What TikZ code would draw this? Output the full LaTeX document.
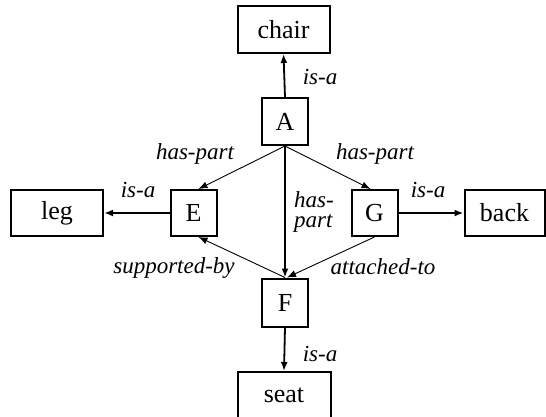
\documentclass[tikz,border=0pt]{standalone}
\usepackage{fontspec}
\setmainfont{Liberation Serif}
\usetikzlibrary{arrows.meta}
\begin{document}
\begin{tikzpicture}[x=1pt,y=-1pt,
  box/.style={draw,line width=2pt,inner sep=0pt,font=\fontsize{26}{28}\selectfont},
  rel/.style={font=\fontsize{23}{20}\selectfont\itshape,inner sep=0pt,anchor=base},
  thickarrow/.style={line width=1.8pt,-{Latex[length=9pt,width=7pt]}},
  thinarrow/.style={line width=0.9pt,-{Latex[length=9pt,width=7pt]}}]
\useasboundingbox (0,0) rectangle (546,417);
% concept boxes
\node[box,minimum width=92pt,minimum height=47pt] (chair) at (283.5,29.5) {chair};
\node[box,minimum width=46pt,minimum height=47pt] (A) at (285,121.5) {A};
\node[box,minimum width=46pt,minimum height=46pt] (E) at (193.5,213) {E};
\node[box,minimum width=92pt,minimum height=46pt] (leg) at (57,213) {leg};
\node[box,minimum width=46pt,minimum height=46pt] (G) at (374.5,213) {G};
\node[box,minimum width=80pt,minimum height=46pt] (back) at (504.5,213) {back};
\node[box,minimum width=46pt,minimum height=48pt] (F) at (285,302.5) {F};
\node[box,minimum width=93pt,minimum height=46pt] (seat) at (284,395) {seat};
% relations
\draw[thickarrow] (A.north) -- (chair.south);
\draw[thinarrow] (A.south) -- ([xshift=5pt]E.north);
\draw[thinarrow] (A.south) -- ([xshift=-4pt]G.north);
\draw[thickarrow] (A.south) -- (F.north);
\draw[thickarrow] (E.west) -- (leg.east);
\draw[thickarrow] (G.east) -- (back.west);
\draw[thinarrow] (F.north) -- ([xshift=5pt]E.south);
\draw[thinarrow] (G.south) -- ([xshift=2pt]F.north);
\draw[thickarrow] (F.south) -- (seat.north);
% relation labels
\node[rel] (l1) at (320,85) {is-a};
\node[rel] (l2) at (195,159) {has-part};
\node[rel] (l3) at (375,159) {has-part};
\node[rel,anchor=base west,align=left] (l4) at (294,227) {has-\\part};
\node[rel] (l6) at (138,197) {is-a};
\node[rel] (l7) at (428,197) {is-a};
\node[rel] (l8) at (174,273) {supported-by};
\node[rel] (l9) at (383,274) {attached-to};
\node[rel] (l10) at (320,361) {is-a};
\end{tikzpicture}
\end{document}
